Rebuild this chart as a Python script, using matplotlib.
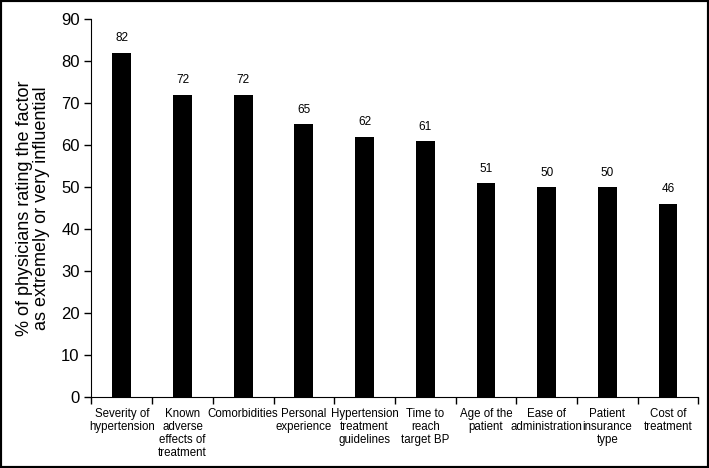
import matplotlib
matplotlib.use("Agg")
import matplotlib.pyplot as plt
from matplotlib.patches import Rectangle

plt.rcParams['font.family'] = ['Liberation Sans', 'DejaVu Sans']

categories = ["Severity of\nhypertension", "Known\nadverse\neffects of\ntreatment",
              "Comorbidities", "Personal\nexperience", "Hypertension\ntreatment\nguidelines",
              "Time to\nreach\ntarget BP", "Age of the\npatient", "Ease of\nadministration",
              "Patient\ninsurance\ntype", "Cost of\ntreatment"]
values = [82, 72, 72, 65, 62, 61, 51, 50, 50, 46]
yticks = [0, 10, 20, 30, 40, 50, 60, 70, 80, 90]
ylabel = "% of physicians rating the factor\nas extremely or very influential"

fig = plt.figure(figsize=(7.09, 4.68), dpi=100)
ax = fig.add_axes([0.129, 0.152, 0.856, 0.807])
x = list(range(len(values)))
ax.bar(x, values, width=0.31, color='black')
for xi, v in zip(x, values):
    ax.annotate(str(v), (xi, v), xytext=(0, 6), textcoords='offset points',
                ha='center', va='bottom', fontsize=8.5)
ax.set_xlim(-0.5, len(values) - 0.5)
ax.set_ylim(0, 90)
ax.set_yticks(yticks)
ax.tick_params(axis='y', labelsize=12, direction='out', length=5, width=1)
ax.set_xticks([i - 0.5 for i in range(len(values) + 1)])
ax.set_xticklabels([])
ax.set_xticks(x, minor=True)
ax.set_xticklabels(categories, minor=True, fontsize=8.3, linespacing=1.1)
ax.tick_params(axis='x', which='major', direction='out', length=5, width=1)
ax.tick_params(axis='x', which='minor', length=0, pad=8)
ax.spines['top'].set_visible(False)
ax.spines['right'].set_visible(False)
ax.set_ylabel(ylabel, fontsize=13, labelpad=8, linespacing=1.0)
fig.patches.append(Rectangle((0, 0), 1, 1, transform=fig.transFigure, fill=False,
                             edgecolor='black', linewidth=3))
fig.savefig("out.png", dpi=100)
